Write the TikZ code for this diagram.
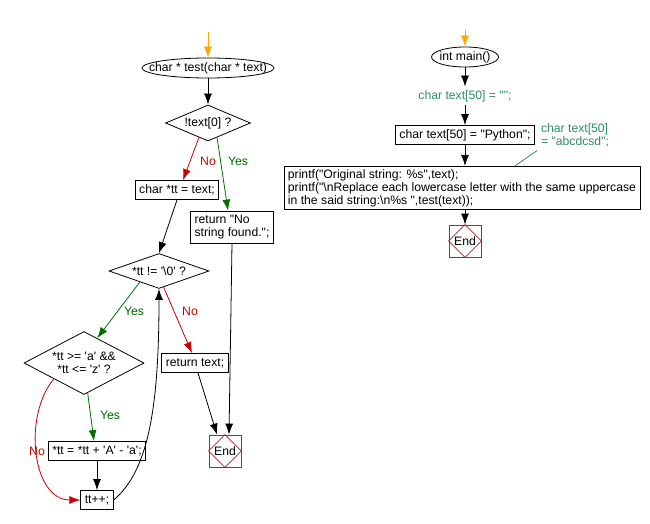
\documentclass[tikz,border=0pt]{standalone}
\usepackage{fontspec}
\setmainfont{Liberation Sans}[Ligatures=TeXOff]
\usetikzlibrary{shapes.geometric,arrows.meta}
\definecolor{noRed}{RGB}{204,0,0}
\definecolor{yesGreen}{RGB}{0,110,0}
\definecolor{startOrange}{RGB}{255,165,0}
\definecolor{endRed}{RGB}{170,40,40}
\definecolor{annot}{RGB}{46,139,100}
\begin{document}
\begin{tikzpicture}[x=1pt,y=1pt,%
font=\fontsize{12.2}{13}\selectfont, line width=0.8pt,
>={Latex[length=11pt,width=8pt]},
% common options for blocks:
block/.style = {rectangle, draw, align=center, inner xsep=4pt,
            inner ysep=0pt, minimum height=19pt},
% common options for the decisions:
decision/.style = {diamond, draw, align=center, inner sep=0pt, aspect=2},
% common options for start and end:
term/.style = {ellipse, draw, inner xsep=-30pt, inner ysep=0pt, minimum height=20pt},
endbox/.style = {rectangle, draw=endRed, minimum size=32pt, inner sep=0pt},
startarrow/.style = {->, startOrange}]
\useasboundingbox (0,0) rectangle (650,-524);
% function test
\coordinate (S1) at (208,-32);
\node[term, minimum width=132pt] (F0) at (208,-68) {char * test(char * text)};
\node[decision, minimum width=85pt, minimum height=36pt] (F1) at (208,-123) {!text[0] ?};
\node[block] (F2) at (177,-190) {char *tt = text;};
\node[block, align=left, minimum height=32pt] (F4) at (232,-227) {return "No\\string found.";};
\node[decision, aspect=3.2, minimum width=100pt, minimum height=35pt] (F3) at (159,-271) {*tt != '\textbackslash0' ?};
\node[block] (F5) at (195,-363) {return text;};
\node[decision, minimum width=120pt, minimum height=63pt] (F6) at (84,-363) {*tt >= 'a' \&\&\\*tt <= 'z' ?};
\node[block] (F7) at (97,-451) {*tt = *tt + 'A' - 'a';};
\node[block] (F8) at (97,-500) {tt++;};
\node[endbox] (E1) at (225,-451) {End};
\node[noRed] (L1) at (208,-161) {No};
\node[yesGreen] (L2) at (238,-161) {Yes};
\node[yesGreen] (L3) at (134,-311) {Yes};
\node[noRed] (L4) at (190,-311) {No};
\node[yesGreen] (L5) at (110,-415) {Yes};
\node[noRed] (L6) at (37,-451) {No};
\draw[startarrow] (S1) -- (F0.north);
\draw[->] (F0) -- (F1);
\draw[->, noRed] (F1.-122) -- ([xshift=6pt]F2.north);
\draw[->, yesGreen] (F1.-58) -- ([xshift=-4pt]F4.north);
\draw[->] (F2.south) -- (F3.north);
\draw[->, yesGreen] (F3.-150) -- (F6.62);
\draw[->, noRed] (F3.-74) -- ([xshift=-3pt]F5.north);
\draw[->, yesGreen] (F6.-83) -- ([xshift=-3pt]F7.north);
\draw[->] (F7) -- (F8);
\draw[->, noRed] (F6.south west) to[out=230, in=180] (F8.west);
\draw[->] (F8.east) .. controls +(40:45) and +(0,-120) .. (F3.south);
\draw[->] ([xshift=3pt]F5.south) -- ([xshift=-8pt]E1.north);
\draw[->] (F4.south) -- ([xshift=4pt]E1.north);
\draw[endRed] (E1.north) -- (E1.east) -- (E1.south) -- (E1.west) -- cycle;
% main
\coordinate (S2) at (465,-30);
\node[term, minimum width=67pt] (M0) at (465,-57) {int main()};
\node[text=annot] (M1) at (465,-96) {char text[50] = "";};
\node[block] (M2) at (465,-135) {char text[50] = "Python";};
\node[text=annot, align=left] (M3) at (575,-135) {char text[50]\\= "abcdcsd";};
\node[block, align=left, inner ysep=3pt] (M4) at (462,-188) {printf("Original string: \%s",text);\\printf("\textbackslash nReplace each lowercase letter with the same uppercase\\in the said string:\textbackslash n\%s ",test(text));};
\node[endbox] (E2) at (465,-241) {End};
\draw[startarrow] (S2) -- (M0.north);
\draw[->] (M0) -- (M1);
\draw[->] (M1) -- (M2);
\draw[->] (M2.south) -- ([xshift=3pt]M4.north);
\draw[annot] (M3.south west) -- ([xshift=53pt]M4.north);
\draw[->] ([xshift=3pt]M4.south) -- (E2.north);
\draw[endRed] (E2.north) -- (E2.east) -- (E2.south) -- (E2.west) -- cycle;
\end{tikzpicture}
\end{document}
